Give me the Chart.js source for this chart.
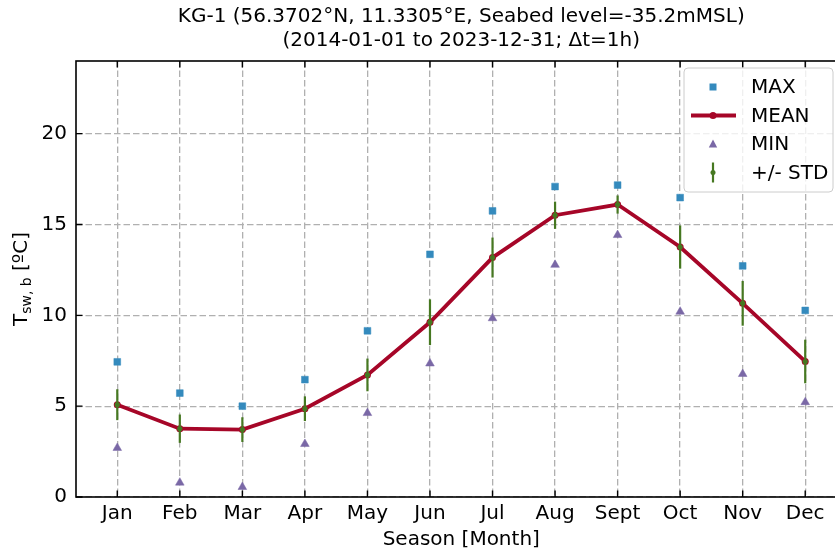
<!DOCTYPE html>
<html>
<head>
<meta charset="utf-8">
<script src="https://cdn.jsdelivr.net/npm/chart.js@4.4.1/dist/chart.umd.min.js"></script>
<style>
  html, body { margin: 0; padding: 0; background: #fff; overflow: hidden; }
  #wrap { width: 835px; height: 552px; overflow: hidden; }
  canvas { display: block; }
</style>
</head>
<body>
<div id="wrap"><canvas id="chart" width="852" height="552"></canvas></div>
<script>
// Monthly climatology of seabed water temperature, KG-1
const months = ['Jan', 'Feb', 'Mar', 'Apr', 'May', 'Jun', 'Jul', 'Aug', 'Sept', 'Oct', 'Nov', 'Dec'];
const tMax  = [7.44, 5.72, 5.00, 6.46, 9.15, 13.36, 15.75, 17.09, 17.17, 16.48, 12.72, 10.27];
const tMean = [5.08, 3.76, 3.71, 4.86, 6.72, 9.62, 13.18, 15.51, 16.10, 13.76, 10.66, 7.46];
const tMin  = [2.70, 0.79, 0.55, 2.92, 4.62, 7.35, 9.84, 12.78, 14.42, 10.20, 6.77, 5.22];
const tStd  = [0.85, 0.78, 0.68, 0.68, 0.90, 1.26, 1.10, 0.75, 0.50, 1.19, 1.23, 1.20];
const yTicks = [0, 5, 10, 15, 20];

const FONT = "'DejaVu Sans', sans-serif";
const C_MAX = '#348ABD', C_MEAN = '#A60628', C_MIN = '#7A68A6', C_STD = '#467821';

function pts(arr) {
  return arr.map((v, i) => ({ x: i, y: v }));
}

// frame, inward ticks, error bars, titles and legend
const decor = {
  id: 'decor',
  beforeDatasetDraw(chart, args) {
    if (args.index !== 3) return;
    const { ctx, scales: { x, y } } = chart;
    ctx.save();
    ctx.strokeStyle = C_STD;
    ctx.lineWidth = 2.2;
    tMean.forEach((m, i) => {
      const px = x.getPixelForValue(i);
      ctx.beginPath();
      ctx.moveTo(px, y.getPixelForValue(m - tStd[i]));
      ctx.lineTo(px, y.getPixelForValue(m + tStd[i]));
      ctx.stroke();
    });
    ctx.restore();
  },
  afterDatasetsDraw(chart) {
    const { ctx, chartArea: a, scales: { x, y } } = chart;
    ctx.save();
    ctx.strokeStyle = '#000';
    ctx.lineWidth = 1.6;
    ctx.strokeRect(a.left, a.top, a.right - a.left, a.bottom - a.top);
    const tl = 6.5;
    ctx.lineWidth = 1.4;
    ctx.beginPath();
    months.forEach((m, i) => {
      const px = x.getPixelForValue(i);
      ctx.moveTo(px, a.bottom); ctx.lineTo(px, a.bottom - tl);
      ctx.moveTo(px, a.top); ctx.lineTo(px, a.top + tl);
    });
    yTicks.forEach(v => {
      const py = y.getPixelForValue(v);
      ctx.moveTo(a.left, py); ctx.lineTo(a.left + tl, py);
      ctx.moveTo(a.right, py); ctx.lineTo(a.right - tl, py);
    });
    ctx.stroke();

    // titles
    const cx = (a.left + a.right) / 2;
    ctx.fillStyle = '#000';
    ctx.textAlign = 'center';
    ctx.textBaseline = 'middle';
    ctx.font = '20px ' + FONT;
    ctx.fillText('KG-1 (56.3702°N, 11.3305°E, Seabed level=-35.2mMSL)', cx, 17);
    ctx.fillText('(2014-01-01 to 2023-12-31; \u0394t=1h)', cx, 41);
    ctx.fillText('Season [Month]', cx, 540);

    // y axis title with subscript
    ctx.save();
    ctx.translate(22, (a.top + a.bottom) / 2);
    ctx.rotate(-Math.PI / 2);
    ctx.textAlign = 'left';
    const main = '20px ' + FONT, sub = '14px ' + FONT;
    ctx.font = main; const w1 = ctx.measureText('T').width;
    ctx.font = sub; const w2 = ctx.measureText('sw, b').width;
    ctx.font = main; const w3 = ctx.measureText(' [ºC]').width;
    let sx = -(w1 + w2 + w3) / 2;
    ctx.font = main; ctx.fillText('T', sx, 0); sx += w1;
    ctx.font = sub; ctx.fillText('sw, b', sx, 5); sx += w2;
    ctx.font = main; ctx.fillText(' [ºC]', sx, 0);
    ctx.restore();

    // legend
    const bx = 684, by = 68, bw = 149, bh = 124;
    ctx.beginPath();
    ctx.roundRect(bx, by, bw, bh, 4);
    ctx.fillStyle = 'rgba(255,255,255,0.8)';
    ctx.fill();
    ctx.strokeStyle = '#cccccc';
    ctx.lineWidth = 1;
    ctx.stroke();
    const hx = 713, tx = 751;
    const rows = [87, 115.5, 144, 172.5];
    // MAX
    ctx.fillStyle = C_MAX;
    ctx.fillRect(hx - 3.5, rows[0] - 3.5, 7, 7);
    // MEAN
    ctx.strokeStyle = C_MEAN; ctx.lineWidth = 3.8;
    ctx.beginPath(); ctx.moveTo(691, rows[1]); ctx.lineTo(736, rows[1]); ctx.stroke();
    ctx.fillStyle = C_MEAN;
    ctx.beginPath(); ctx.arc(hx, rows[1], 3.5, 0, Math.PI * 2); ctx.fill();
    // MIN
    ctx.fillStyle = C_MIN;
    ctx.beginPath();
    ctx.moveTo(hx, rows[2] - 4.5); ctx.lineTo(hx + 4.2, rows[2] + 3.5); ctx.lineTo(hx - 4.2, rows[2] + 3.5);
    ctx.closePath(); ctx.fill();
    // STD
    ctx.strokeStyle = C_STD; ctx.lineWidth = 2.2;
    ctx.beginPath(); ctx.moveTo(hx, rows[3] - 10); ctx.lineTo(hx, rows[3] + 10); ctx.stroke();
    ctx.fillStyle = C_STD;
    ctx.beginPath(); ctx.arc(hx, rows[3], 2.5, 0, Math.PI * 2); ctx.fill();

    ctx.fillStyle = '#000';
    ctx.font = '20px ' + FONT;
    ctx.textAlign = 'left';
    ['MAX', 'MEAN', 'MIN', '+/- STD'].forEach((t, i) => ctx.fillText(t, tx, rows[i] + 1));
    ctx.restore();
  }
};

const ctx = document.getElementById('chart').getContext('2d');
new Chart(ctx, {
  type: 'line',
  data: {
    datasets: [
      {
        label: 'MAX', data: pts(tMax), showLine: false,
        pointStyle: 'rect', pointRadius: 4.8, pointBorderWidth: 0.5,
        backgroundColor: C_MAX, borderColor: C_MAX, order: 2
      },
      {
        label: 'MEAN', data: pts(tMean),
        borderColor: C_MEAN, backgroundColor: C_MEAN, borderWidth: 3.8,
        pointStyle: 'circle', pointRadius: 3.5, pointBorderWidth: 0, order: 3
      },
      {
        label: 'MIN', data: pts(tMin), showLine: false,
        pointStyle: 'triangle', pointRadius: 5, pointBorderWidth: 0.5,
        backgroundColor: C_MIN, borderColor: C_MIN, order: 2
      },
      {
        label: '+/- STD', data: pts(tMean), showLine: false,
        pointStyle: 'circle', pointRadius: 2.6, pointBorderWidth: 0,
        backgroundColor: C_STD, borderColor: C_STD, order: 1
      }
    ]
  },
  options: {
    responsive: false,
    animation: false,
    events: [],
    layout: { padding: { top: 61, left: 0, right: 0, bottom: 0 } },
    plugins: {
      legend: { display: false },
      title: { display: false },
      tooltip: { enabled: false }
    },
    scales: {
      x: {
        type: 'linear',
        min: -0.66,
        max: 11.66,
        afterBuildTicks: s => { s.ticks = months.map((m, i) => ({ value: i })); },
        afterFit: s => { s.height = 55; s.paddingLeft = 0; s.paddingRight = 0; },
        grid: { color: '#b0b0b0', lineWidth: 1.3, drawTicks: false },
        border: { display: false, dash: [6.5, 3] },
        ticks: {
          callback: v => months[v],
          color: '#000',
          font: { family: FONT, size: 20 },
          padding: 5,
          maxRotation: 0,
          autoSkip: false
        }
      },
      y: {
        type: 'linear',
        min: 0,
        max: 24,
        afterBuildTicks: s => { s.ticks = yTicks.map(v => ({ value: v })); },
        afterFit: s => { s.width = 76; s.paddingTop = 0; s.paddingBottom = 0; },
        grid: { color: '#b0b0b0', lineWidth: 1.3, drawTicks: false },
        border: { display: false, dash: [6.5, 3] },
        ticks: {
          color: '#000',
          font: { family: FONT, size: 20 },
          padding: 9
        }
      }
    }
  },
  plugins: [decor]
});
</script>
</body>
</html>
